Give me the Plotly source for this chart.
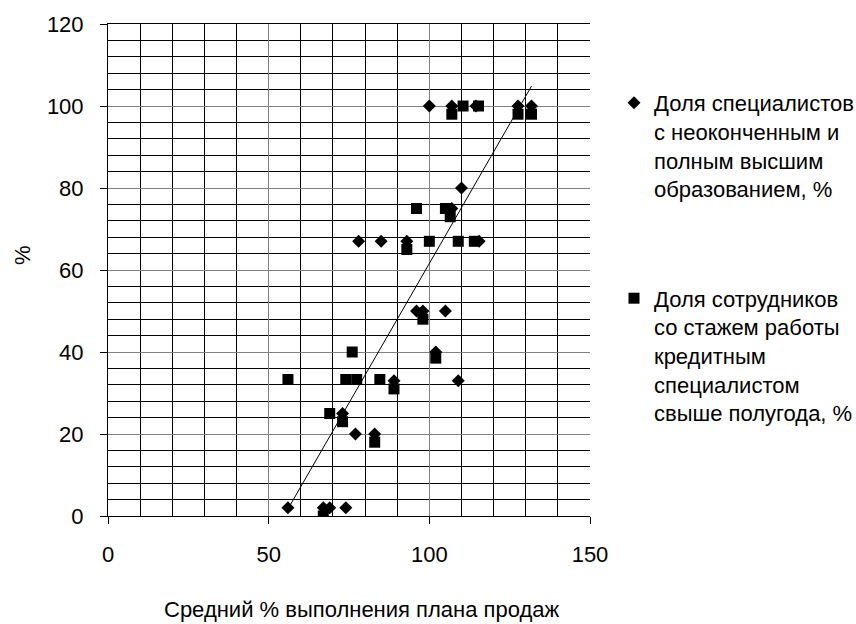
import numpy as np
import plotly.graph_objects as go

# ---- data ----
# Series 1: share of specialists with higher / incomplete higher education (diamonds)
x_edu = [56, 67, 69, 74, 73, 77, 83, 89, 109, 102, 96, 98, 105, 78, 85, 93,
         115.5, 107, 110, 100, 107, 114.5, 127.6, 131.8]
y_edu = [2, 2, 2, 2, 25, 20, 20, 33, 33, 40, 50, 50, 50, 67, 67, 67,
         67, 75, 80, 100, 100, 100, 100, 100]

# Series 2: share of employees with > half-year experience (squares)
x_exp = [56, 67, 69, 73, 74, 77.4, 76, 83, 84.6, 89, 98, 102, 93, 100, 109,
         114, 96, 105, 106.5, 107, 110.5, 115.3, 127.6, 131.8]
y_exp = [33.3, 0, 25, 23, 33.3, 33.3, 40, 18, 33.3, 31, 48, 38.5, 65, 67, 67,
         67, 75, 75, 73, 98, 100, 100, 98, 98]

name_edu = "Доля специалистов<br>с неоконченным и<br>полным высшим<br>образованием, %"
name_exp = "Доля сотрудников<br>со стажем работы<br>кредитным<br>специалистом<br>свыше полугода, %"
x_title = "Средний % выполнения плана продаж"
y_title = "%"

FONT = "Liberation Sans, Arial, sans-serif"

# linear trend line fitted to all points
xa = np.array(x_edu + x_exp, dtype=float)
ya = np.array(y_edu + y_exp, dtype=float)
coef = np.polyfit(xa, ya, 1)
xs = np.array([xa.min(), xa.max()])
ys = np.polyval(coef, xs)

fig = go.Figure()
fig.add_trace(go.Scatter(
    x=x_edu, y=y_edu, mode="markers", name=name_edu, legendgroup="a",
    marker=dict(symbol="diamond", size=10, color="black", line=dict(width=0)),
))
fig.add_trace(go.Scatter(
    x=x_exp, y=y_exp, mode="markers", name=name_exp, legendgroup="b",
    marker=dict(symbol="square", size=11, color="black", line=dict(width=0)),
))
fig.add_trace(go.Scatter(
    x=xs, y=ys, mode="lines", showlegend=False, hoverinfo="skip",
    line=dict(color="black", width=1),
))

W, H = 856, 624
L, R, T, B = 108, 266, 24, 108
pw, ph = W - L - R, H - T - B

def px2paper_x(px):
    return (px - L) / pw

def px2paper_y(py):
    return (H - B - py) / ph

fig.update_layout(
    width=W, height=H,
    margin=dict(l=L, r=R, t=T, b=B, pad=0, autoexpand=False),
    paper_bgcolor="white", plot_bgcolor="white",
    font=dict(family=FONT, color="black", size=22),
    showlegend=True,
    legend=dict(
        x=px2paper_x(614), y=px2paper_y(82), xanchor="left", yanchor="top",
        font=dict(family=FONT, size=22, color="black"),
        traceorder="grouped", tracegroupgap=78, valign="top",
        bgcolor="rgba(0,0,0,0)", borderwidth=0,
    ),
    xaxis=dict(
        range=[0, 150], dtick=50, tick0=0, ticks="outside", ticklen=7,
        tickcolor="black", tickwidth=1, showline=True, linecolor="black",
        linewidth=1, mirror=True, zeroline=False, showgrid=True,
        gridcolor="#808080", gridwidth=1,
        minor=dict(dtick=10, showgrid=True, gridcolor="black", gridwidth=1,
                   ticks=""),
        tickfont=dict(family=FONT, size=22, color="black"),
        ticklabelstandoff=12,
    ),
    yaxis=dict(
        range=[0, 120], dtick=20, tick0=0, ticks="outside", ticklen=7,
        tickcolor="black", tickwidth=1, showline=True, linecolor="black",
        linewidth=1, zeroline=False, showgrid=True,
        gridcolor="#808080", gridwidth=1,
        minor=dict(dtick=4, showgrid=True, gridcolor="black", gridwidth=1,
                   ticks=""),
        tickfont=dict(family=FONT, size=22, color="black"),
        ticklabelstandoff=12,
    ),
    annotations=[
        dict(text=x_title, xref="paper", yref="paper",
             x=px2paper_x(362), y=px2paper_y(609), xanchor="center",
             yanchor="middle", showarrow=False,
             font=dict(family=FONT, size=22, color="black")),
        dict(text=y_title, xref="paper", yref="paper",
             x=px2paper_x(22), y=px2paper_y(255), xanchor="center",
             yanchor="middle", showarrow=False, textangle=-90,
             font=dict(family=FONT, size=22, color="black")),
    ],
)

fig.write_html("out.html")
